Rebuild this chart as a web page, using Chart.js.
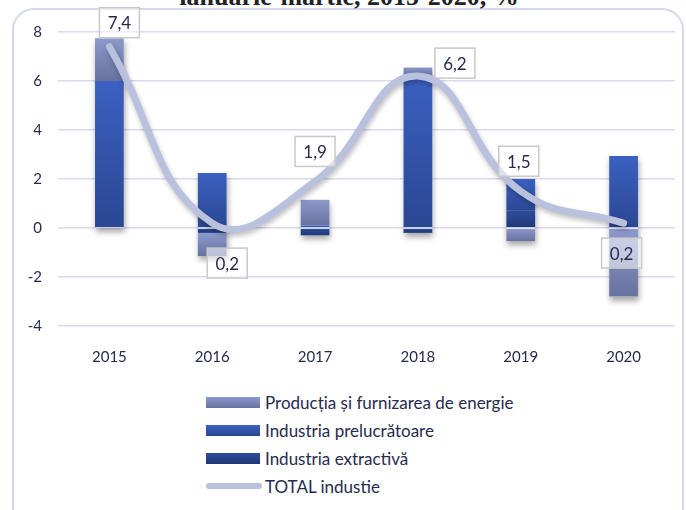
<!DOCTYPE html>
<html>
<head>
<meta charset="utf-8">
<script src="https://cdn.jsdelivr.net/npm/chart.js@4.4.1/dist/chart.umd.min.js"></script>
<style>
  html, body { margin: 0; padding: 0; background: #fff; }
  body { width: 686px; height: 510px; position: relative; overflow: hidden; font-family: Lato, sans-serif; }
  #frame { position: absolute; left: 12px; top: 8px; width: 668px; height: 600px; border: 2px solid #d5d9ef; border-radius: 22px; }
  #title { position: absolute; left: 6px; top: -15px; width: 686px; text-align: center; font: bold 26px "Liberation Serif", serif; line-height: 24px; color: #222; white-space: nowrap; }
  #wrap { position: absolute; left: 0; top: 0; width: 686px; height: 372px; }
  #legend { position: absolute; left: 206px; top: 388px; }
  .item { height: 28px; display: flex; align-items: center; font-size: 17px; color: #262b4f; }
  .sw { width: 54px; height: 11px; margin-right: 5px; }
  .ln { width: 56px; height: 6px; border-radius: 3px; margin-right: 3px; }
</style>
</head>
<body>
<div id="frame"></div>
<div id="title">ianuarie-martie, 2015-2020, %</div>
<div id="wrap"><canvas id="chart"></canvas></div>
<div id="legend"></div>
<script>
var labels = ['2015', '2016', '2017', '2018', '2019', '2020'];
var energie = [1.75, -0.95, 1.05, 0.3, -0.53, -2.8];
var prelucratoare = [6.0, 2.25, 0.1, 6.25, 1.3, 2.94];
var extractiva = [0, -0.2, -0.3, -0.2, 0.7, 0];
var total = [7.4, 0.2, 1.9, 6.2, 1.5, 0.2];

// where each total label box sits relative to its point
var labelDx = [10, 15, 0, 37, -2, -2];
var labelDy = [-24, 40, -30, -13, -30, 30];

var textColor = '#262b4f';
var barSeries = [extractiva, prelucratoare, energie];

function segGradient(c1, c2) {
  return function(ctx) {
    var chart = ctx.chart;
    var ys = chart.scales.y;
    if (!ys || !chart.chartArea || ctx.type !== 'data') return c1;
    var d = ctx.datasetIndex, i = ctx.dataIndex;
    var v = barSeries[d][i];
    var base = 0;
    for (var j = 0; j < d; j++) {
      var w = barSeries[j][i];
      if ((w >= 0) === (v >= 0)) base += w;
    }
    var a = ys.getPixelForValue(base), b = ys.getPixelForValue(base + v);
    var top = Math.min(a, b), bottom = Math.max(a, b);
    if (bottom - top < 1) return c1;
    var g = chart.ctx.createLinearGradient(0, top, 0, bottom);
    g.addColorStop(0, c1);
    g.addColorStop(1, c2);
    return g;
  };
}

// drop shadow under each bar stack and under the total line
var shadows = {
  id: 'shadows',
  beforeDatasetsDraw: function(chart) {
    var ctx = chart.ctx, ys = chart.scales.y;
    var meta = chart.getDatasetMeta(0);
    ctx.save();
    ctx.shadowColor = 'rgba(0,0,0,0.35)';
    ctx.shadowBlur = 6;
    ctx.shadowOffsetX = 1;
    ctx.shadowOffsetY = 4;
    ctx.fillStyle = '#ffffff';
    labels.forEach(function(l, i) {
      var pos = 0, neg = 0;
      barSeries.forEach(function(s) { if (s[i] >= 0) pos += s[i]; else neg += s[i]; });
      var el = meta.data[i];
      var top = ys.getPixelForValue(pos), bottom = ys.getPixelForValue(neg);
      ctx.fillRect(el.x - el.width / 2, top, el.width, bottom - top);
    });
    ctx.restore();
  },
  beforeDatasetDraw: function(chart, args) {
    if (args.index !== 3) return;
    var ctx = chart.ctx;
    ctx.save();
    ctx.shadowColor = 'rgba(0,0,0,0.25)';
    ctx.shadowBlur = 5;
    ctx.shadowOffsetX = 1;
    ctx.shadowOffsetY = 3;
  },
  afterDatasetDraw: function(chart, args) {
    if (args.index === 3) chart.ctx.restore();
  }
};

var totalLabels = {
  id: 'totalLabels',
  afterDatasetsDraw: function(chart) {
    var ctx = chart.ctx;
    var meta = chart.getDatasetMeta(3);
    ctx.save();
    ctx.font = '17px Lato';
    ctx.textAlign = 'center';
    ctx.textBaseline = 'middle';
    meta.data.forEach(function(pt, i) {
      var txt = total[i].toFixed(1).replace('.', ',');
      var cx = pt.x + labelDx[i], cy = pt.y + labelDy[i];
      var w = 40, h = 30;
      ctx.fillStyle = 'rgba(255,255,255,0.55)';
      ctx.fillRect(cx - w / 2, cy - h / 2, w, h);
      ctx.strokeStyle = '#c9c9c9';
      ctx.lineWidth = 1.5;
      ctx.strokeRect(cx - w / 2, cy - h / 2, w, h);
      ctx.fillStyle = textColor;
      ctx.fillText(txt, cx, cy + 1);
    });
    ctx.restore();
  }
};

var colors = [
  ['#2f4d9d', '#1f3775'],
  ['#3b60c0', '#2a4792'],
  ['#8d99cc', '#67729f']
];
var names = ['Industria extractivă', 'Industria prelucrătoare', 'Producția și furnizarea de energie'];

var datasets = barSeries.map(function(s, k) {
  return {
    type: 'bar',
    label: names[k],
    data: s,
    backgroundColor: segGradient(colors[k][0], colors[k][1]),
    borderWidth: 0,
    barPercentage: 1,
    categoryPercentage: 0.28,
    order: 1
  };
});
datasets.push({
  type: 'line',
  label: 'TOTAL industie',
  data: total,
  borderColor: '#bac1dc',
  borderWidth: 7,
  borderCapStyle: 'round',
  tension: 0.45,
  pointRadius: 0,
  stack: 'total',
  order: 0
});

new Chart(document.getElementById('chart'), {
  data: { labels: labels, datasets: datasets },
  plugins: [shadows, totalLabels],
  options: {
    responsive: true,
    maintainAspectRatio: false,
    animation: false,
    layout: { padding: { top: 32, right: 11, left: 0, bottom: 0 } },
    plugins: { legend: { display: false }, tooltip: { enabled: false } },
    scales: {
      x: {
        stacked: true,
        grid: { display: false },
        border: { display: false },
        ticks: { color: textColor, font: { family: 'Lato', size: 15 }, padding: 14 },
        afterFit: function(scale) { scale.height = 46; }
      },
      y: {
        stacked: true,
        min: -4,
        max: 8,
        ticks: { stepSize: 2, color: textColor, font: { family: 'Lato', size: 15 }, padding: 16 },
        grid: { color: '#d7daf0', lineWidth: 1.5, drawTicks: false },
        border: { display: false },
        afterFit: function(scale) { scale.width = 58; }
      }
    }
  }
});

// legend, in the same order as the reference
var legendItems = [2, 1, 0];
var legend = document.getElementById('legend');
legendItems.forEach(function(k) {
  var row = document.createElement('div');
  row.className = 'item';
  var sw = document.createElement('div');
  sw.className = 'sw';
  sw.style.background = 'linear-gradient(' + colors[k][0] + ', ' + colors[k][1] + ')';
  row.appendChild(sw);
  row.appendChild(document.createTextNode(names[k]));
  legend.appendChild(row);
});
var row = document.createElement('div');
row.className = 'item';
var ln = document.createElement('div');
ln.className = 'ln';
ln.style.background = '#bac1dc';
row.appendChild(ln);
row.appendChild(document.createTextNode('TOTAL industie'));
legend.appendChild(row);
</script>
</body>
</html>
